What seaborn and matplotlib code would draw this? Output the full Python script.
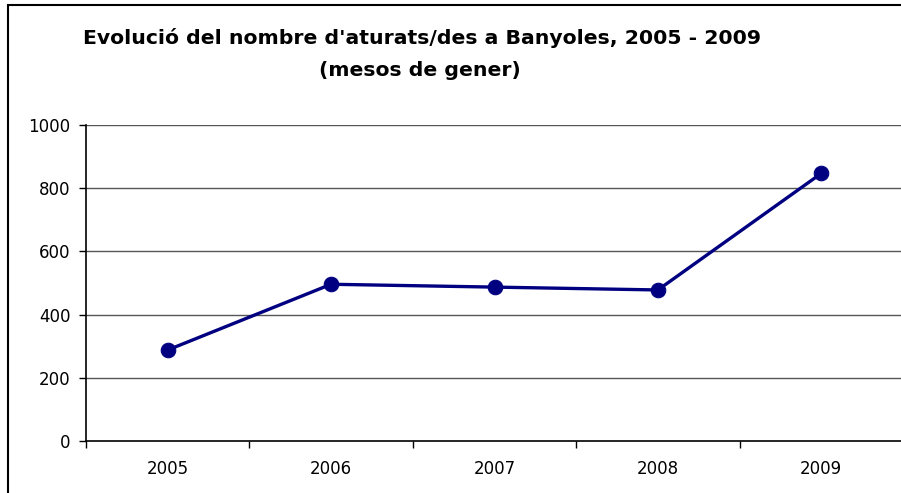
import matplotlib
matplotlib.use("Agg")
import matplotlib.pyplot as plt
import matplotlib.patches as patches
import seaborn as sns
import numpy as np

# Dades: aturats a Banyoles (mes de gener)
anys = ["2005", "2006", "2007", "2008", "2009"]
aturats = [288, 496, 487, 478, 847]
yticks = [0, 200, 400, 600, 800, 1000]

sns.set_style("white")
plt.rcParams['font.family'] = ['DejaVu Sans']
plt.rcParams['text.color'] = 'black'
plt.rcParams['xtick.color'] = 'black'
plt.rcParams['ytick.color'] = 'black'

fig = plt.figure(figsize=(9.01, 4.93), dpi=100)
ax = fig.add_axes([86 / 901, 1 - 441 / 493, 817 / 901, 316 / 493])

pos = np.arange(len(anys))
sns.lineplot(x=pos, y=aturats, ax=ax, color="#000080", linewidth=2.4,
             marker="o", markersize=10.5, markeredgecolor="#000080")

ax.set_xlim(-0.5, len(anys) - 0.5)
ax.set_ylim(0, 1000)
ax.set_yticks(yticks)
ax.set_yticklabels([str(v) for v in yticks], fontsize=12)
ax.set_xticks(pos)
ax.set_xticklabels(anys, fontsize=12)
ax.set_xticks(np.arange(-0.5, len(anys), 1), minor=True)
ax.tick_params(axis="x", which="major", length=0, pad=14, bottom=True)
ax.tick_params(axis="x", which="minor", length=5, width=1, color="black",
               direction="out", bottom=True)
ax.tick_params(axis="y", length=5, width=1, color="black", direction="out", pad=6, left=True)

for v in yticks[1:]:
    ax.axhline(v, color="#555555", linewidth=1, zorder=0)

for s in ["top", "right"]:
    ax.spines[s].set_visible(False)
for s in ["left", "bottom"]:
    ax.spines[s].set_color("black")
    ax.spines[s].set_linewidth(1.2)

fig.text(422 / 901, 1 - 38 / 493, "Evolució del nombre d'aturats/des a Banyoles, 2005 - 2009",
         ha="center", va="center", fontsize=14.7, fontweight="bold")
fig.text(420 / 901, 1 - 70 / 493, "(mesos de gener)",
         ha="center", va="center", fontsize=14.7, fontweight="bold")

# marc de l'area del grafic
fig.patches.append(patches.Rectangle((8 / 901, -0.1), 1.2, 1 - 5 / 493 + 0.1,
                                     transform=fig.transFigure, fill=False,
                                     edgecolor="black", linewidth=1.5))

fig.savefig("out.png", dpi=100)
